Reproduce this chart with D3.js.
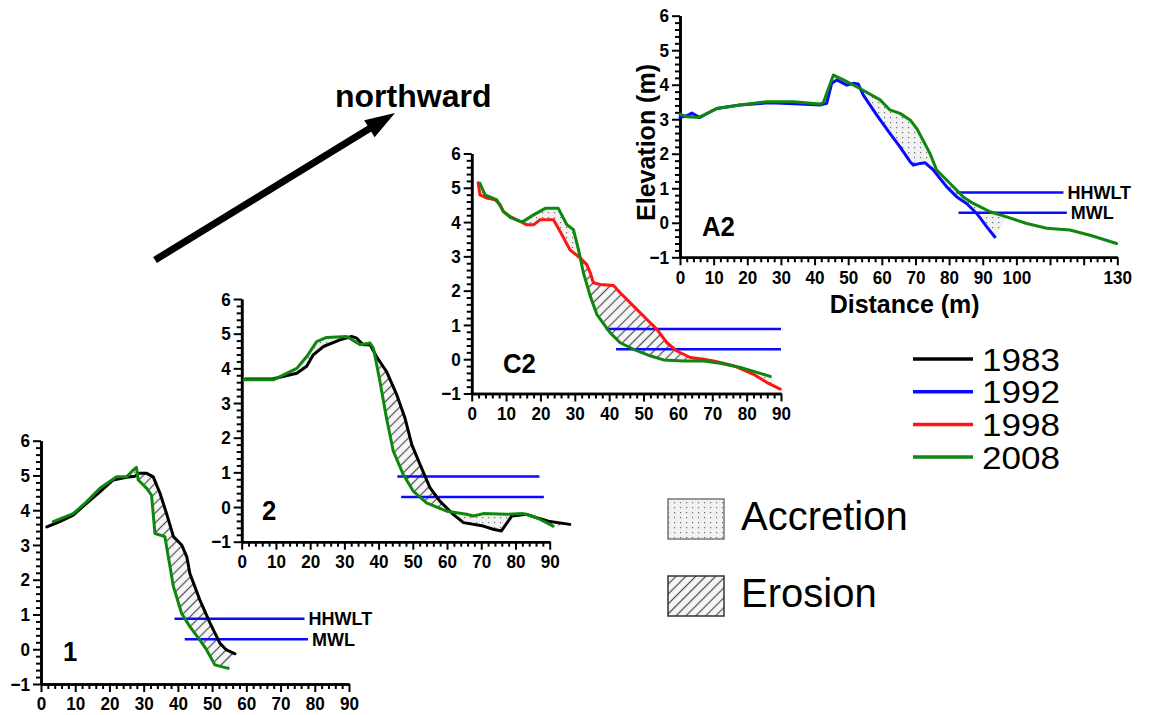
<!DOCTYPE html>
<html>
<head>
<meta charset="utf-8">
<script src="https://cdn.jsdelivr.net/npm/d3@7"></script>
<style>
  body { margin: 0; background: #fff; }
</style>
</head>
<body>
<div></div>
<script>
// ---- data ----
const years = ["1983", "1992", "1998", "2008"];
const yearColors = ["#000000", "#0a0aff", "#ff1414", "#0f870f"];
const changeTypes = ["Accretion", "Erosion"];
const hhwltLevel = 0.88;   // m
const mwlLevel = 0.29;     // m

// profile 1  [distance m, elevation m]
const p1_1983 = [[1.7,3.52],[5.5,3.67],[9.4,3.86],[13.3,4.2],[17.2,4.53],[21.1,4.87],[25,4.95],[27.5,4.98],[28.5,5.06],[30.9,5.06],[32.8,4.96],[34.8,4.48],[36.7,3.9],[38.7,3.24],[41.1,3.0],[42.6,2.66],[43.5,2.18],[46.4,1.42],[49.4,0.75],[52.3,0.17],[54.2,-0.02],[56.7,-0.13]];
const p1_2008 = [[3.6,3.67],[9.4,3.9],[13.3,4.24],[17.2,4.63],[22.1,4.96],[25,4.96],[26.9,5.15],[27.9,5.23],[28.4,4.87],[30.9,4.63],[32.3,4.43],[33.3,3.33],[36.2,3.24],[37.2,2.66],[38.7,1.8],[41.1,1.03],[43.5,0.65],[46.4,0.27],[48.4,-0.02],[50.8,-0.45],[54.7,-0.55]];

// profile 2
const p2_1983 = [[1,3.69],[9.25,3.7],[16.1,3.86],[19,4.06],[20.9,4.39],[23.9,4.63],[28.7,4.82],[32.1,4.92],[33.6,4.87],[35.5,4.68],[37.5,4.68],[39.4,4.34],[42.3,3.91],[45.3,3.24],[47.7,2.57],[49.7,1.8],[52.1,1.23],[55,0.56],[57.9,0.17],[61.8,-0.21],[64.8,-0.45],[70.6,-0.55],[73.5,-0.64],[75.9,-0.69],[78.9,-0.26],[83.3,-0.21],[86.2,-0.31],[90.1,-0.42],[95.9,-0.5]];
const p2_2008 = [[0.7,3.67],[9.25,3.67],[16.1,4.0],[19,4.34],[21.9,4.77],[24.8,4.89],[30.7,4.92],[34.6,4.68],[37.5,4.73],[38.5,4.58],[40.4,3.62],[42.3,2.57],[44.3,1.61],[47.2,0.94],[50.1,0.46],[54,0.12],[59.9,-0.12],[65.7,-0.21],[67.7,-0.26],[70.6,-0.19],[77.4,-0.21],[82.3,-0.19],[86.2,-0.31],[91,-0.55]];

// profile C2
const pC2_1998 = [[1.9,5.15],[2.4,4.79],[4.4,4.7],[6.8,4.65],[8.3,4.5],[9.2,4.31],[11.2,4.16],[14.1,4.02],[16,3.92],[18,3.92],[19.9,4.07],[23.8,4.07],[25.7,3.73],[28.6,3.19],[31.6,2.95],[33.5,2.76],[34.5,2.52],[35.4,2.23],[37.4,2.18],[41.3,2.15],[43.2,1.94],[47.1,1.55],[51,1.16],[53.9,0.87],[56.8,0.48],[59.7,0.24],[63.6,0.05],[67.5,0],[70.4,-0.05],[76.2,-0.19],[82,-0.44],[85.9,-0.68],[89.8,-0.87]];
const pC2_2008 = [[2.4,5.13],[3.9,4.79],[7.3,4.65],[9.2,4.31],[11.2,4.14],[14.1,4.02],[15,4.02],[18,4.21],[21.4,4.4],[25.2,4.4],[27.7,3.92],[29.6,3.78],[31.1,3.19],[32.5,2.52],[34.5,1.84],[36.4,1.31],[40.3,0.77],[43.2,0.48],[47.1,0.29],[51.9,0.1],[55.8,-0.02],[61.7,-0.05],[67.5,-0.05],[72.3,-0.12],[78.2,-0.24],[86.9,-0.5]];

// profile A2
const pA2_1992 = [[0,3.05],[2,3.1],[3.5,3.18],[5.9,3.05],[10.9,3.31],[17.8,3.41],[26.8,3.48],[35.7,3.44],[41.6,3.41],[43.6,3.46],[45.1,4.04],[46.6,4.14],[49.6,3.99],[51.5,4.04],[53,4.02],[54.5,3.7],[58.5,3.12],[62.4,2.59],[65.4,2.2],[68.4,1.77],[69.4,1.67],[71.4,1.72],[72.8,1.74],[75.3,1.53],[79.3,1.04],[82.3,0.75],[85.2,0.56],[88.2,0.27],[91.2,-0.12],[93.6,-0.41]];
const pA2_2008 = [[0,3.15],[2,3.07],[5.5,3.05],[10.9,3.31],[17.8,3.41],[25.8,3.51],[33.7,3.51],[41.6,3.44],[42.6,3.48],[45.6,4.28],[48.6,4.14],[53.5,3.89],[59.5,3.56],[62.4,3.27],[65.4,3.17],[68.4,2.98],[70.4,2.73],[74.3,2.01],[76.3,1.53],[80.3,1.14],[84.2,0.75],[87.2,0.56],[92.2,0.32],[97.1,0.17],[103.1,-0.02],[109,-0.16],[115.9,-0.21],[121.9,-0.36],[129.8,-0.6]];

// tide lines extent along distance [from, to]
const p1_hhwlt = [39, 77],   p1_mwl = [42, 78];
const p2_hhwlt = [45.5, 87], p2_mwl = [46.6, 88.3];
const pC2_hhwlt = [39, 90],  pC2_mwl = [42, 90];
const pA2_hhwlt = [82.3, 114], pA2_mwl = [82.8, 115];

const yTickValues = [-1, 0, 1, 2, 3, 4, 5, 6];
const xLabels90 = [0, 10, 20, 30, 40, 50, 60, 70, 80, 90];
const xLabels130 = [0, 10, 20, 30, 40, 50, 60, 70, 80, 90, 100, 130];

// ---- layout ----
const panels = [
  { name: "1",  old: p1_1983,  oldYear: 0, neu: p1_2008,  fillTo: 999, xmax: 90,  xr: [41, 349],      yr: [684, 440.7],  tide: [p1_hhwlt, p1_mwl],   tideText: true,  label: [63, 661], labels: xLabels90 },
  { name: "2",  old: p2_1983,  oldYear: 0, neu: p2_2008,  fillTo: 999, xmax: 90,  xr: [241.7, 549.7], yr: [541.7, 299],  tide: [p2_hhwlt, p2_mwl],   tideText: false, label: [262, 520], labels: xLabels90 },
  { name: "C2", old: pC2_1998, oldYear: 2, neu: pC2_2008, fillTo: 999, xmax: 90,  xr: [471.7, 781],   yr: [393.5, 153.5], tide: [pC2_hhwlt, pC2_mwl], tideText: false, label: [503, 373], labels: xLabels90 },
  { name: "A2", old: pA2_1992, oldYear: 1, neu: pA2_2008, fillTo: 97.2, xmax: 130, xr: [680, 1117.3], yr: [257.3, 15.7], tide: [pA2_hhwlt, pA2_mwl], tideText: true,  label: [702, 236], labels: xLabels130 }
];

const font = '"Liberation Sans", Arial, Helvetica, sans-serif';

const svg = d3.select('div')
  .append('svg')
  .attr('width', 1156)
  .attr('height', 715)
  .style('font-family', font);

// squeeze text horizontally like the reference
function squish(sel, f) {
  sel.each(function() {
    const w = this.getComputedTextLength();
    if (w > 0) d3.select(this).attr('textLength', w * f).attr('lengthAdjust', 'spacingAndGlyphs');
  });
}

const defs = svg.append('defs');

// accretion: dots
const pa = defs.append('pattern')
  .attr('id', 'accretion')
  .attr('patternUnits', 'userSpaceOnUse')
  .attr('width', 6).attr('height', 5);
pa.append('rect').attr('width', 6).attr('height', 5).attr('fill', '#f1f1f1');
pa.append('rect').attr('x', 2).attr('y', 2).attr('width', 1.2).attr('height', 1.2).attr('fill', '#707070');

// erosion: hatch
const pe = defs.append('pattern')
  .attr('id', 'erosion')
  .attr('patternUnits', 'userSpaceOnUse')
  .attr('width', 7).attr('height', 7)
  .attr('patternTransform', 'rotate(45)');
pe.append('rect').attr('width', 7).attr('height', 7).attr('fill', '#f6f6f6');
pe.append('line').attr('x1', 3.5).attr('y1', 0).attr('x2', 3.5).attr('y2', 7)
  .attr('stroke', '#505050').attr('stroke-width', 1.2);

const lineGen = d3.line();

panels.forEach((p, i) => {
  const x = d3.scaleLinear().domain([0, p.xmax]).range(p.xr);
  const y = d3.scaleLinear().domain([-1, 6]).range(p.yr);
  const toPx = d => [x(d[0]), y(d[1])];
  const g = svg.append('g').attr('class', 'panel');

  // clip regions above / below the older profile
  const o = p.old.map(toPx);
  const ext = [[o[0][0] - 60, o[0][1]]].concat(o, [[o[o.length - 1][0] + 60, o[o.length - 1][1]]]);
  const top = y(6) - 200, bot = y(-1) + 200;
  const above = ext.concat([[ext[ext.length - 1][0], top], [ext[0][0], top]]);
  const below = ext.concat([[ext[ext.length - 1][0], bot], [ext[0][0], bot]]);
  defs.append('clipPath').attr('id', 'above' + i).append('path').attr('d', lineGen(above) + 'Z');
  defs.append('clipPath').attr('id', 'below' + i).append('path').attr('d', lineGen(below) + 'Z');

  const between = p.neu.filter(d => d[0] <= p.fillTo).map(toPx).concat(o.slice().reverse());
  const bd = lineGen(between) + 'Z';
  g.append('path').attr('d', bd).attr('fill', 'url(#accretion)').attr('clip-path', `url(#above${i})`);
  g.append('path').attr('d', bd).attr('fill', 'url(#erosion)').attr('clip-path', `url(#below${i})`);

  // axes
  const minorX = d3.range(0, p.xmax + 0.001, 2).filter(v => v % 10 !== 0);
  const majorX = d3.range(0, p.xmax + 0.001, 10);
  const minorY = d3.range(-10, 61, 2).map(v => v / 10).filter(v => Math.abs(v - Math.round(v)) > 0.01);

  const xg = g.append('g').attr('transform', `translate(0,${y(-1)})`);
  xg.append('g').attr('class', 'minor')
    .call(d3.axisBottom(x).tickValues(minorX).tickSize(5).tickSizeOuter(0).tickFormat(() => ''));
  xg.append('g').call(d3.axisBottom(x).tickValues(majorX).tickSize(8).tickSizeOuter(0).tickPadding(5)
    .tickFormat(v => p.labels.includes(v) ? String(v) : ''));

  const yg = g.append('g').attr('transform', `translate(${x(0)},0)`);
  yg.append('g').attr('class', 'minor')
    .call(d3.axisLeft(y).tickValues(minorY).tickSize(5).tickSizeOuter(0).tickFormat(() => ''));
  yg.append('g').call(d3.axisLeft(y).tickValues(yTickValues).tickSize(8).tickSizeOuter(0).tickPadding(3)
    .tickFormat(d3.format('d')));

  g.selectAll('.domain').attr('stroke', '#000').attr('stroke-width', 2.6);
  g.selectAll('.tick line').attr('stroke', '#000').attr('stroke-width', 2);
  g.selectAll('.tick text')
    .attr('fill', '#000')
    .style('font-family', font)
    .style('font-size', '19px')
    .style('font-weight', 'bold')
    .call(squish, 0.9);

  // tide levels
  [hhwltLevel, mwlLevel].forEach((lvl, k) => {
    const ext2 = p.tide[k];
    g.append('line')
      .attr('x1', x(ext2[0])).attr('x2', x(ext2[1]))
      .attr('y1', y(lvl)).attr('y2', y(lvl))
      .attr('stroke', '#0a0aff').attr('stroke-width', 2.5);
    if (p.tideText) {
      g.append('text')
        .attr('x', x(ext2[1]) + 4)
        .attr('y', y(lvl) + 6.5)
        .style('font-size', '18px')
        .style('font-weight', 'bold')
        .text(k === 0 ? 'HHWLT' : 'MWL');
    }
  });

  // profiles
  g.append('path').datum(p.old)
    .attr('d', d3.line().x(d => x(d[0])).y(d => y(d[1])))
    .attr('fill', 'none').attr('stroke', yearColors[p.oldYear])
    .attr('stroke-width', 3).attr('stroke-linejoin', 'round').attr('stroke-linecap', 'round');
  g.append('path').datum(p.neu)
    .attr('d', d3.line().x(d => x(d[0])).y(d => y(d[1])))
    .attr('fill', 'none').attr('stroke', yearColors[3])
    .attr('stroke-width', 3).attr('stroke-linejoin', 'round').attr('stroke-linecap', 'round');

  // panel name
  g.append('text')
    .attr('x', p.label[0]).attr('y', p.label[1])
    .style('font-size', '28px').style('font-weight', 'bold')
    .text(p.name)
    .call(squish, 0.92);

  // axis titles only on A2
  if (p.name === 'A2') {
    g.append('text')
      .attr('transform', `translate(655,${(y(-1) + y(6)) / 2 + 6}) rotate(-90)`)
      .attr('text-anchor', 'middle')
      .style('font-size', '25px').style('font-weight', 'bold')
      .text('Elevation (m)');
    g.append('text')
      .attr('x', (x(0) + x(130)) / 2 + 6).attr('y', 313)
      .attr('text-anchor', 'middle')
      .style('font-size', '25px').style('font-weight', 'bold')
      .text('Distance (m)');
  }
});

// year legend
const lg = svg.append('g');
years.forEach((yr, i) => {
  const ly = 359 + i * 32.7;
  lg.append('line').attr('x1', 913).attr('x2', 973).attr('y1', ly).attr('y2', ly)
    .attr('stroke', yearColors[i]).attr('stroke-width', 3.5);
  lg.append('text').attr('x', 982).attr('y', ly + 11.5)
    .style('font-size', '31px')
    .attr('textLength', 78).attr('lengthAdjust', 'spacingAndGlyphs')
    .text(yr);
});

// accretion / erosion legend
changeTypes.forEach((c, i) => {
  const by = 499 + i * 77;
  svg.append('rect').attr('x', 668).attr('y', by).attr('width', 56).attr('height', 40)
    .attr('fill', i === 0 ? 'url(#accretion)' : 'url(#erosion)')
    .attr('stroke', i === 0 ? '#777' : '#333').attr('stroke-width', 1.5);
  svg.append('text').attr('x', 741).attr('y', by + 31)
    .style('font-size', '40px')
    .text(c);
});

// northward arrow
const tail = [155, 260], tip = [395, 113];
const dx = tip[0] - tail[0], dy = tip[1] - tail[1];
const len = Math.hypot(dx, dy);
const ux = dx / len, uy = dy / len;
const headLen = 30, headW = 10;
const bx = tip[0] - headLen * ux, by = tip[1] - headLen * uy;
svg.append('line')
  .attr('x1', tail[0]).attr('y1', tail[1]).attr('x2', bx + 4 * ux).attr('y2', by + 4 * uy)
  .attr('stroke', '#000').attr('stroke-width', 7);
svg.append('polygon')
  .attr('points', [tip, [bx - headW * uy, by + headW * ux], [bx + headW * uy, by - headW * ux]].map(d => d.join(',')).join(' '))
  .attr('fill', '#000');
svg.append('text').attr('x', 335).attr('y', 107)
  .style('font-size', '32px').style('font-weight', 'bold')
  .text('northward');
</script>
</body>
</html>
